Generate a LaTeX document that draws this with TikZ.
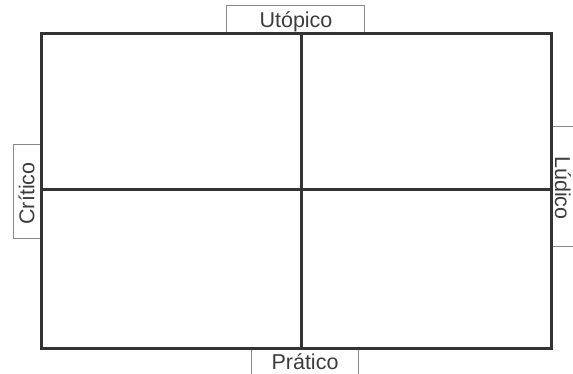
\documentclass[tikz,border=0pt]{standalone}
\usepackage{fontspec}
\setmainfont{Liberation Sans}
\definecolor{frame}{HTML}{333333}
\definecolor{boxline}{HTML}{8A8A8A}
\definecolor{labeltext}{HTML}{3C3C3C}
\tikzset{
  grid/.style={draw=frame, line width=3pt},
  tab/.style={draw=boxline, line width=1pt},
  lab/.style={text=labeltext, font=\fontsize{21.5}{21.5}\selectfont, inner sep=0pt}
}
\begin{document}
\begin{tikzpicture}[x=1pt,y=-1pt]
\useasboundingbox (0,0) rectangle (573,374);
% coordinates
\coordinate (tl) at (41.5,33.5);
\coordinate (br) at (551,348);
\coordinate (vt) at (301,33.5);
\coordinate (vb) at (301,348);
\coordinate (hl) at (41.5,190);
\coordinate (hr) at (551,190);
% label tabs
\draw[tab] (226,33.5) -- (226,6) -- (364,6) -- (364,33.5);
\draw[tab] (41.5,145) -- (13,145) -- (13,239) -- (41.5,239);
\draw[tab] (551,126.5) -- (574,126.5);
\draw[tab] (551,246.5) -- (574,246.5);
\draw[tab] (251,348) -- (251,375);
\draw[tab] (358,348) -- (358,375);
% labels
\node[lab] (uto) at (296,21.5) {Utópico};
\node[lab, rotate=90] (cri) at (26.5,193.5) {Crítico};
\node[lab, rotate=-90] (lud) at (563,188) {Lúdico};
\node[lab] (pra) at (305,362) {Prático};
% grid
\draw[grid] (tl) rectangle (br);
\draw[grid] (vt) -- (vb);
\draw[grid] (hl) -- (hr);
\end{tikzpicture}
\end{document}
